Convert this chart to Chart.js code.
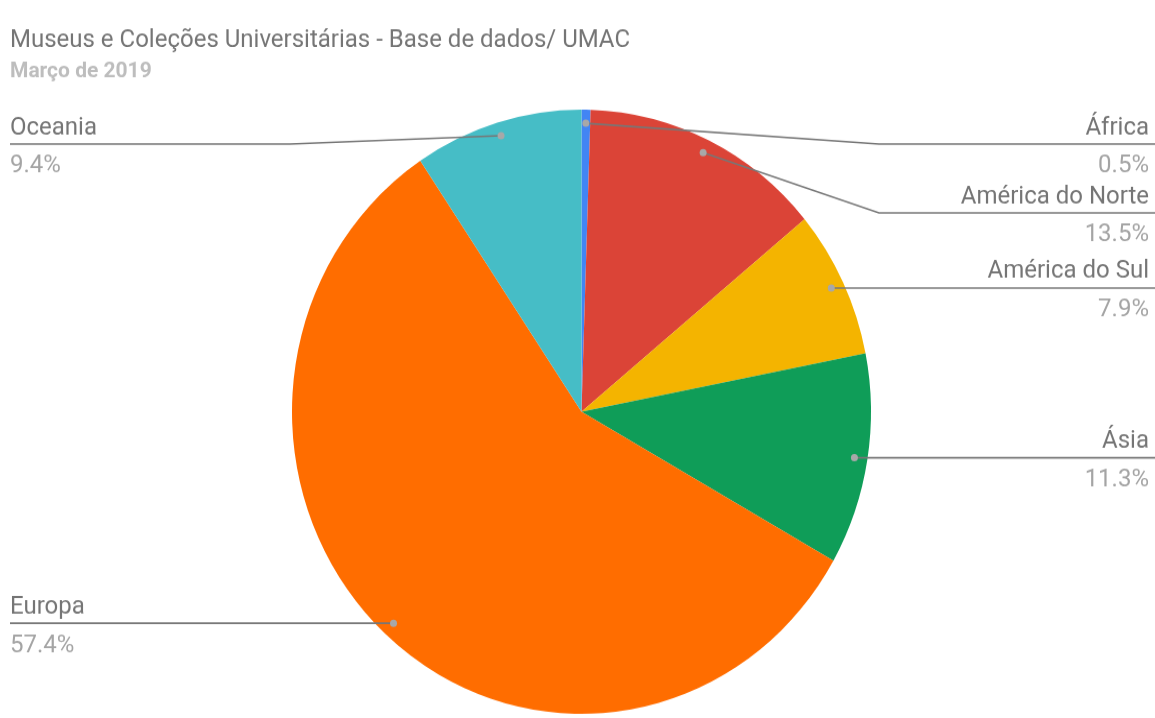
<!DOCTYPE html>
<html>
<head>
<meta charset="utf-8">
<script src="https://cdn.jsdelivr.net/npm/chart.js@4.4.1/dist/chart.umd.min.js"></script>
<style>
  html, body { margin: 0; padding: 0; background: #ffffff; overflow: hidden; }
  #wrap { position: relative; width: 1155px; height: 718px; }
</style>
</head>
<body>
<div id="wrap"><canvas id="c" width="1155" height="688" style="display:block;width:1155px;height:718px;"></canvas></div>
<script>
const titleText = 'Museus e Coleções Universitárias - Base de dados/ UMAC';
const subtitleText = 'Março de 2019';
const categories = ['África', 'América do Norte', 'América do Sul', 'Ásia', 'Europa', 'Oceania'];
const values = [0.5, 13.5, 7.9, 11.3, 57.4, 9.4];
const colors = ['#4285f4', '#db4437', '#f4b400', '#0f9d58', '#ff6d00', '#46bdc6'];

const labelPlugin = {
  id: 'sideLabels',
  afterDraw(chart) {
    const ctx = chart.ctx;
    const W = chart.width;
    ctx.save();
    ctx.textAlign = 'left';
    ctx.textBaseline = 'alphabetic';
    ctx.fillStyle = '#757575';
    ctx.font = '24px Roboto';
    ctx.fillText(titleText, 10, 45);
    ctx.fillStyle = '#bdbdbd';
    ctx.font = 'bold 21px Roboto';
    ctx.fillText(subtitleText, 10, 74);

    const meta = chart.getDatasetMeta(0);
    const items = [];
    meta.data.forEach((arc, i) => {
      const p = arc.getProps(['x', 'y', 'startAngle', 'endAngle', 'outerRadius'], true);
      const mid = (p.startAngle + p.endAngle) / 2;
      const d = p.outerRadius * 0.955;
      items.push({
        i,
        cx: p.x, cy: p.y, R: p.outerRadius,
        dx: p.x + Math.cos(mid) * d,
        dy: p.y + Math.sin(mid) * d,
        side: Math.cos(mid) >= 0 ? 'right' : 'left'
      });
    });
    const spacing = 66, topMin = 138;
    ['right', 'left'].forEach(side => {
      const list = items.filter(o => o.side === side).sort((a, b) => a.dy - b.dy);
      let prev = topMin - spacing;
      list.forEach(o => {
        o.ly = Math.max(o.dy, prev + spacing);
        prev = o.ly;
      });
    });
    items.forEach(o => {
      const right = o.side === 'right';
      const edgeX = right ? W : 10;
      const kneeX = right ? o.cx + o.R + 8 : o.cx - o.R - 2;
      ctx.strokeStyle = '#777777';
      ctx.lineWidth = 1.7;
      ctx.beginPath();
      ctx.moveTo(o.dx, o.dy);
      if (Math.abs(o.ly - o.dy) > 0.5) {
        ctx.lineTo(kneeX, o.ly);
      }
      ctx.lineTo(edgeX, o.ly);
      ctx.stroke();
      ctx.fillStyle = '#a8a8a8';
      ctx.beginPath();
      ctx.arc(o.dx, o.dy, 3.5, 0, Math.PI * 2);
      ctx.fill();
      const tx = right ? W - 6 : 10;
      ctx.textAlign = right ? 'right' : 'left';
      ctx.font = '24px Roboto';
      ctx.fillStyle = '#757575';
      ctx.fillText(categories[o.i], tx, o.ly - 9.5);
      ctx.fillStyle = '#a4a4a4';
      ctx.fillText(values[o.i].toFixed(1) + '%', tx, o.ly + 27.3);
    });
    ctx.restore();
  }
};

new Chart(document.getElementById('c'), {
  type: 'pie',
  data: {
    labels: categories,
    datasets: [{
      data: values,
      backgroundColor: colors,
      borderWidth: 0
    }]
  },
  options: {
    responsive: false,
    devicePixelRatio: 1,
    animation: false,
    layout: { padding: { top: 105, bottom: 4, left: 8, right: 0 } },
    plugins: {
      legend: { display: false },
      tooltip: { enabled: false },
      title: { display: false }
    }
  },
  plugins: [labelPlugin]
});
</script>
</body>
</html>
